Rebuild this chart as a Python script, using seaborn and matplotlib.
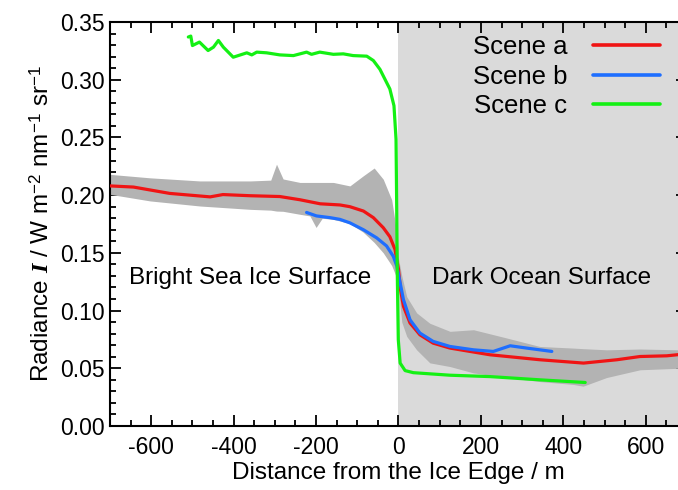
import numpy as np
import pandas as pd
import matplotlib
matplotlib.use("Agg")
import matplotlib.pyplot as plt
from matplotlib.ticker import MultipleLocator, FormatStrFormatter
import seaborn as sns

# ---- profile data: distance from ice edge (m) vs radiance ----
scene_a_x = [-700, -643, -555, -457, -426, -360, -288, -239, -190, -142, -118, -85, -61,
             -37, -21, -8.5, 0, 5, 12, 28, 52, 84, 125, 222, 343, 449, 530, 586, 651, 700]
scene_a_y = [0.208, 0.207, 0.2015, 0.1985, 0.2005, 0.1995, 0.1988, 0.196, 0.1925, 0.1915,
             0.190, 0.1862, 0.1805, 0.1718, 0.164, 0.153, 0.1356, 0.118, 0.1037, 0.0892,
             0.079, 0.0718, 0.0675, 0.0617, 0.0574, 0.0545, 0.0574, 0.0602, 0.0608, 0.0626]

scene_b_x = [-223, -199, -166, -142, -118, -85, -53, -29, -12.6, -4, 4, 12, 28, 52, 84,
             125, 182, 230, 271, 311, 372]
scene_b_y = [0.185, 0.182, 0.1805, 0.179, 0.176, 0.170, 0.163, 0.156, 0.147, 0.1385, 0.124,
             0.1095, 0.092, 0.0805, 0.0733, 0.0689, 0.066, 0.0646, 0.0695, 0.0675, 0.0646]

scene_c_x = [-510, -504, -500, -483, -462, -449, -437, -425, -401, -368, -356, -344, -320,
             -288, -255, -223, -211, -191, -158, -134, -110, -77, -61, -45, -21, -11, -6,
             -4.4, -3, -0.5, 4, 16, 36, 76, 125, 222, 343, 453]
scene_c_y = [0.337, 0.3378, 0.3296, 0.3326, 0.3253, 0.3282, 0.334, 0.3282, 0.3195, 0.3233,
             0.3215, 0.3239, 0.3233, 0.3215, 0.3209, 0.3239, 0.322, 0.3239, 0.322, 0.3224,
             0.3209, 0.3204, 0.3166, 0.309, 0.292, 0.2775, 0.2485, 0.1906, 0.1327, 0.0747,
             0.0545, 0.048, 0.0462, 0.0452, 0.0440, 0.0428, 0.040, 0.0377]

# envelope of the individual profiles (grey cloud)
cloud_x = [-700, -603, -482, -360, -310, -296, -280, -239, -215, -200, -185, -158, -118,
           -86, -59, -37, -16.5, -4, 0, 8, 20, 44, 76, 125, 182, 263, 343, 424, 448, 505,
           586, 678, 700]
cloud_hi = [0.218, 0.215, 0.2123, 0.2123, 0.213, 0.2268, 0.214, 0.211, 0.211, 0.211, 0.211,
            0.211, 0.208, 0.2166, 0.2235, 0.2138, 0.196, 0.167, 0.145, 0.130, 0.112, 0.098,
            0.089, 0.082, 0.0834, 0.0762, 0.0689, 0.0675, 0.067, 0.066, 0.0667, 0.066, 0.066]
cloud_lo = [0.2007, 0.195, 0.1906, 0.1877, 0.187, 0.1862, 0.186, 0.1834, 0.182, 0.172, 0.180,
            0.179, 0.1754, 0.168, 0.159, 0.150, 0.139, 0.128, 0.118, 0.090, 0.0776, 0.066,
            0.0547, 0.0515, 0.046, 0.042, 0.0385, 0.036, 0.0345, 0.042, 0.0487, 0.050, 0.050]

scene_names = ["Scene a", "Scene b", "Scene c"]
scene_colors = ["#f01414", "#1e6eff", "#14f014"]

df = pd.concat([
    pd.DataFrame({"x": scene_a_x, "y": scene_a_y, "Scene": scene_names[0]}),
    pd.DataFrame({"x": scene_b_x, "y": scene_b_y, "Scene": scene_names[1]}),
    pd.DataFrame({"x": scene_c_x, "y": scene_c_y, "Scene": scene_names[2]}),
], ignore_index=True)

sns.set_style("ticks")
plt.rcParams["font.family"] = ["Liberation Sans", "DejaVu Sans"]
plt.rcParams["text.color"] = "black"
plt.rcParams["axes.labelcolor"] = "black"
plt.rcParams["axes.unicode_minus"] = False
plt.rcParams["mathtext.fontset"] = "custom"
plt.rcParams["mathtext.rm"] = "Liberation Sans"
plt.rcParams["mathtext.it"] = "Liberation Serif:italic:bold"
plt.rcParams["mathtext.bf"] = "Liberation Sans:bold"

fig = plt.figure(figsize=(6.78, 4.90), dpi=100)
ax = fig.add_axes([110 / 678, 1 - 426 / 490, (687 - 110) / 678, (426 - 22) / 490])

# dark ocean side
ax.axvspan(0, 700, color="#dadada", lw=0, zorder=0)
# cloud of individual profiles
ax.fill_between(cloud_x, cloud_lo, cloud_hi, color="#b3b3b3", lw=0, zorder=1)

sns.lineplot(data=df, x="x", y="y", hue="Scene", hue_order=scene_names,
             palette=scene_colors, linewidth=2.3, errorbar=None, sort=False,
             estimator=None, ax=ax, zorder=3)

ax.set_xlim(-700, 700)
ax.set_ylim(0, 0.35)
ax.xaxis.set_major_locator(MultipleLocator(200))
ax.xaxis.set_minor_locator(MultipleLocator(50))
ax.yaxis.set_major_locator(MultipleLocator(0.05))
ax.yaxis.set_minor_locator(MultipleLocator(0.01))
ax.yaxis.set_major_formatter(FormatStrFormatter("%.2f"))
ax.tick_params(which="both", direction="in", top=True, right=True, color="black",
               width=1.3, labelsize=16.5, labelcolor="black")
ax.tick_params(which="major", length=8)
ax.tick_params(which="minor", length=4.3)
ax.tick_params(axis="x", pad=7)
ax.tick_params(axis="y", pad=4)
for s in ax.spines.values():
    s.set_linewidth(1.5)
    s.set_color("black")

ax.set_xlabel("Distance from the Ice Edge / m", fontsize=17.5, labelpad=2)
ax.set_ylabel(r"Radiance $\mathit{I}$ / W m$^{\mathrm{-2}}$ nm$^{\mathrm{-1}}$ sr$^{\mathrm{-1}}$",
              fontsize=17.5, labelpad=4)

ax.text(-360, 0.1286, "Bright Sea Ice Surface", ha="center", va="center", fontsize=17.5)
ax.text(348, 0.1286, "Dark Ocean Surface", ha="center", va="center", fontsize=17.5)

handles, labels = ax.get_legend_handles_labels()
for h in handles:
    h.set_linewidth(2.6)
leg = ax.legend(handles, labels, loc="upper right", bbox_to_anchor=(660 / 678, 1 - 35 / 490),
                bbox_transform=fig.transFigure, frameon=False, markerfirst=False,
                fontsize=18.5, handlelength=2.6, handletextpad=1.0, labelspacing=0.22,
                borderpad=0, borderaxespad=0, title=None)

fig.savefig("out.png", dpi=100)
